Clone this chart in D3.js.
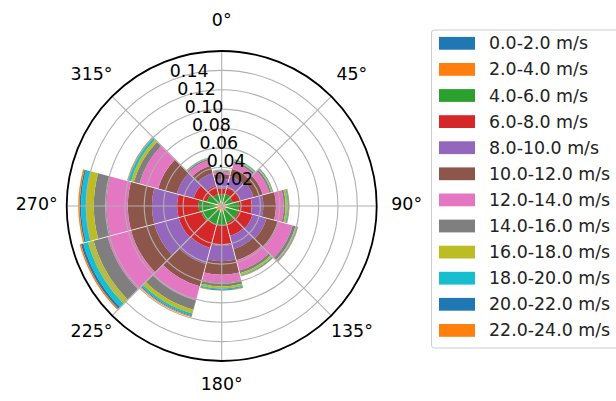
<!DOCTYPE html>
<html>
<head>
<meta charset="utf-8">
<script src="https://cdn.jsdelivr.net/npm/d3@7"></script>
<style>
   body { margin: 0; background: #fff; }
   text { font-family: "DejaVu Sans", sans-serif; }
</style>
</head>
<body>
<svg id="windrose" width="616" height="401"></svg>
<script>
var directions = [0, 30, 60, 90, 120, 150, 180, 210, 240, 270, 300, 330]
var speedBins = ["0.0-2.0 m/s", "2.0-4.0 m/s", "4.0-6.0 m/s", "6.0-8.0 m/s", "8.0-10.0 m/s",
   "10.0-12.0 m/s", "12.0-14.0 m/s", "14.0-16.0 m/s", "16.0-18.0 m/s", "18.0-20.0 m/s",
   "20.0-22.0 m/s", "22.0-24.0 m/s"]
var radialTicks = [0.02, 0.04, 0.06, 0.08, 0.10, 0.12, 0.14]
var angleTicks = [0, 45, 90, 135, 180, 225, 270, 315]

// frequency of each speed bin, one value per direction
var bin0 = [0.0003, 0.0003, 0.0003, 0.0003, 0.0003, 0.0003, 0.0003, 0.0003, 0.0004, 0.0005, 0.0003, 0.0003]
var bin1 = [0.0037, 0.0037, 0.0037, 0.0047, 0.0047, 0.0047, 0.0057, 0.0047, 0.0056, 0.0055, 0.0047, 0.0037]
var bin2 = [0.008, 0.009, 0.008, 0.013, 0.013, 0.013, 0.014, 0.015, 0.016, 0.018, 0.011, 0.009]
var bin3 = [0.006, 0.008, 0.008, 0.013, 0.015, 0.014, 0.021, 0.025, 0.024, 0.022, 0.014, 0.009]
var bin4 = [0.010, 0.011, 0.014, 0.012, 0.015, 0.014, 0.016, 0.017, 0.026, 0.026, 0.018, 0.013]
var bin5 = [0.005, 0.008, 0.010, 0.013, 0.013, 0.012, 0.014, 0.024, 0.025, 0.025, 0.020, 0.008]
var bin6 = [0.0025, 0.006, 0.007, 0.008, 0.015, 0.011, 0.008, 0.015, 0.025, 0.022, 0.020, 0.006]
var bin7 = [0.001, 0.002, 0.002, 0.002, 0.003, 0.003, 0.004, 0.010, 0.015, 0.013, 0.006, 0.0015]
var bin8 = [0.0005, 0.001, 0.001, 0.002, 0.001, 0.0015, 0.002, 0.004, 0.006, 0.008, 0.003, 0.0005]
var bin9 = [0.0003, 0.0007, 0.0005, 0.001, 0.001, 0.001, 0.0015, 0.002, 0.005, 0.005, 0.003, 0.0005]
var bin10 = [0.0002, 0.0003, 0.0005, 0.0005, 0.0005, 0.0005, 0.0005, 0.001, 0.0025, 0.0015, 0.0007, 0.0003]
var bin11 = [0.0001, 0.0002, 0.0002, 0.0005, 0.0005, 0.0005, 0.0005, 0.001, 0.0015, 0.0015, 0.0006, 0.0002]

var bins = [bin0, bin1, bin2, bin3, bin4, bin5, bin6, bin7, bin8, bin9, bin10, bin11]
var colors = ["#1f77b4", "#ff7f0e", "#2ca02c", "#d62728", "#9467bd", "#8c564b",
   "#e377c2", "#7f7f7f", "#bcbd22", "#17becf", "#1f77b4", "#ff7f0e"]

var cx = 221.7
var cy = 206
var outerR = 155
var fontSize = 17.4

var svg = d3.select("#windrose")
var rScale = d3.scaleLinear().domain([0, 0.16]).range([0, outerR])
var rad = function(deg) { return deg * Math.PI / 180 }

// one row per direction, one key per speed bin
var rows = directions.map(function(d, i) {
   var row = { dir: d }
   bins.forEach(function(b, j) { row["b" + j] = b[i] })
   return row
})
var stacked = d3.stack().keys(bins.map(function(b, j) { return "b" + j }))(rows)

var plot = svg.append("g").attr("transform", "translate(" + cx + "," + cy + ")")

var arc = d3.arc()
   .innerRadius(function(d) { return rScale(d[0]) })
   .outerRadius(function(d) { return rScale(d[1]) })
   .startAngle(function(d) { return rad(d.data.dir - 15) })
   .endAngle(function(d) { return rad(d.data.dir + 15) })
   .padAngle(0.008)
   .padRadius(100)

plot.selectAll("g.layer").data(stacked).enter().append("g")
      .attr("class", "layer")
      .attr("fill", function(d, i) { return colors[i] })
   .selectAll("path").data(function(d) { return d }).enter().append("path")
      .attr("d", arc)

// grid drawn above the bars
plot.selectAll("circle.ring").data(radialTicks).enter().append("circle")
   .attr("class", "ring")
   .attr("r", function(d) { return rScale(d) })
   .attr("fill", "none")
   .attr("stroke", "#b0b0b0")
   .attr("stroke-width", 1.1)

plot.selectAll("line.spoke").data(angleTicks).enter().append("line")
   .attr("class", "spoke")
   .attr("x1", 0).attr("y1", 0)
   .attr("x2", function(d) { return outerR * Math.sin(rad(d)) })
   .attr("y2", function(d) { return -outerR * Math.cos(rad(d)) })
   .attr("stroke", "#b0b0b0")
   .attr("stroke-width", 1.1)

plot.append("circle")
   .attr("r", outerR)
   .attr("fill", "none")
   .attr("stroke", "#000")
   .attr("stroke-width", 1.8)

// radial tick labels along 337.5 deg
plot.selectAll("text.rlabel").data(radialTicks).enter().append("text")
   .attr("class", "rlabel")
   .attr("x", function(d) { return rScale(d) * Math.sin(rad(-22.5)) })
   .attr("y", function(d) { return -rScale(d) * Math.cos(rad(-22.5)) - 3.5 })
   .attr("font-size", fontSize)
   .attr("fill", "#000")
   .text(function(d) { return d3.format(".2f")(d) })

plot.selectAll("text.alabel").data(angleTicks).enter().append("text")
   .attr("class", "alabel")
   .attr("x", function(d) { return (182 + 3 * Math.abs(Math.sin(rad(d)))) * Math.sin(rad(d)) })
   .attr("y", function(d) { return -182 * Math.cos(rad(d)) - 2 - 2.5 * Math.abs(Math.cos(rad(d))) })
   .attr("text-anchor", "middle")
   .attr("dominant-baseline", "central")
   .attr("font-size", fontSize)
   .attr("fill", "#000")
   .text(function(d) { return d + "°" })

// legend
var legend = svg.append("g").attr("transform", "translate(431.5,30)")

legend.append("rect")
   .attr("width", 200)
   .attr("height", 318)
   .attr("rx", 3)
   .attr("fill", "#fff")
   .attr("fill-opacity", 0.8)
   .attr("stroke", "#cccccc")
   .attr("stroke-width", 1)

var items = legend.selectAll("g.item").data(speedBins).enter().append("g")
   .attr("class", "item")
   .attr("transform", function(d, i) { return "translate(0," + (13.3 + i * 26.1) + ")" })

items.append("rect")
   .attr("x", 7.5)
   .attr("y", -6.4)
   .attr("width", 36)
   .attr("height", 12.8)
   .attr("fill", function(d, i) { return colors[i] })

items.append("text")
   .attr("x", 57.5)
   .attr("y", 0)
   .attr("dominant-baseline", "central")
   .attr("font-size", fontSize)
   .attr("fill", "#222")
   .text(function(d) { return d })
</script>
</body>
</html>
